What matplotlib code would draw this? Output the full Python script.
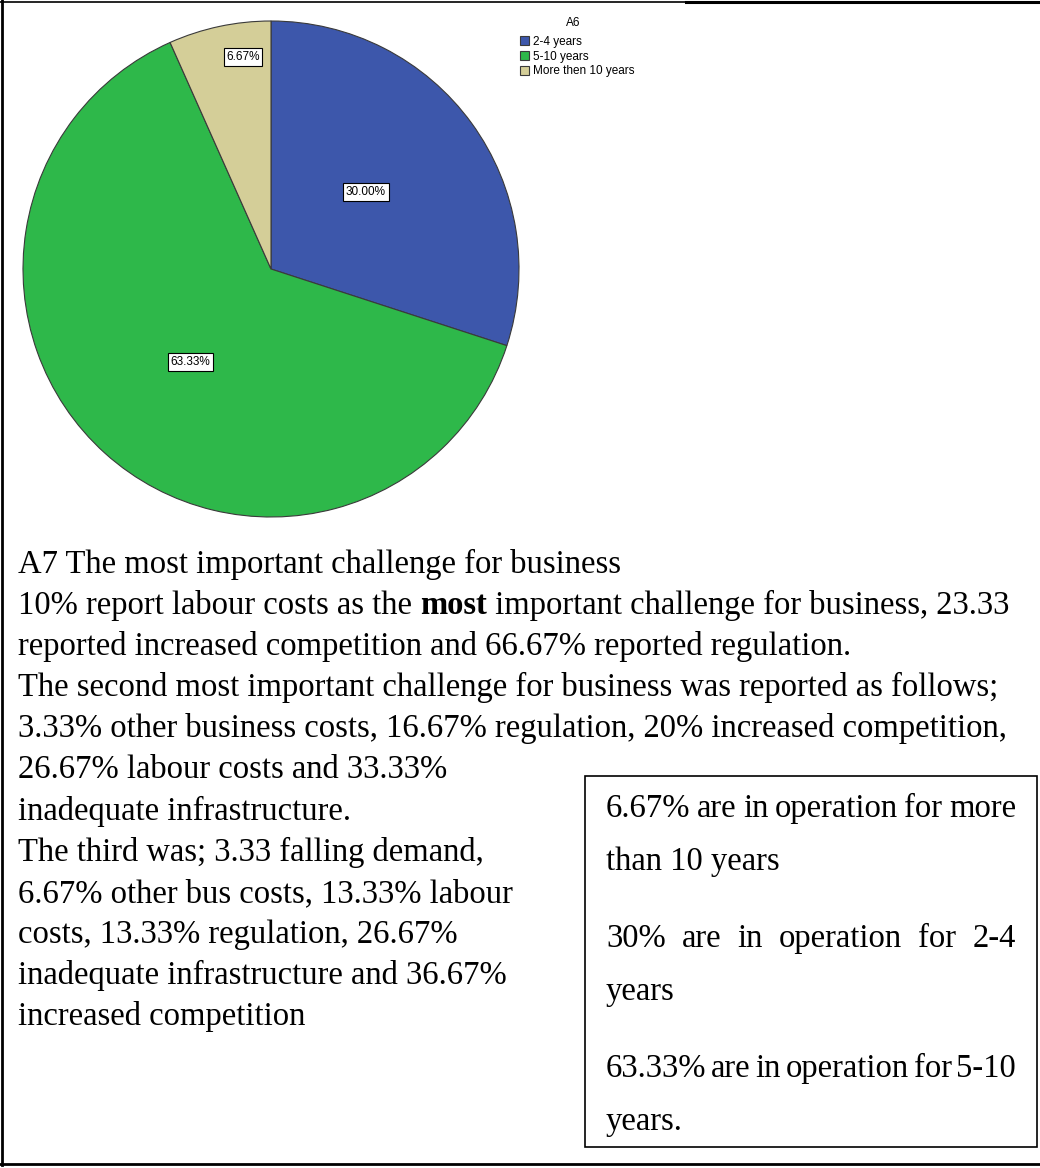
import matplotlib.pyplot as plt
import numpy as np
from matplotlib.patches import Rectangle

plt.rcParams['font.family'] = ['Liberation Serif', 'DejaVu Serif']

# pie data (A6: years in operation)
categories = ["2-4 years", "5-10 years", "More then 10 years"]
shares = [30.00, 63.33, 6.67]
pie_labels = ["30.00%", "63.33%", "6.67%"]
colors = ["#3d57ab", "#2eb84a", "#d4ce98"]

# text under the pie, one list per line: (text, weight) runs
body_lines = [
    [("A7 The most important challenge for business", "normal")],
    [("10% report labour costs as the ", "normal"), ("most", "bold"),
     (" important challenge for business, 23.33", "normal")],
    [("reported increased competition and 66.67% reported regulation.", "normal")],
    [("The second most important challenge for business was reported as follows;", "normal")],
    [("3.33% other business costs, 16.67% regulation, 20% increased competition,", "normal")],
    [("26.67% labour costs and 33.33%", "normal")],
    [("inadequate infrastructure.", "normal")],
    [("The third was; 3.33 falling demand,", "normal")],
    [("6.67% other bus costs, 13.33% labour", "normal")],
    [("costs, 13.33% regulation, 26.67%", "normal")],
    [("inadequate infrastructure and 36.67%", "normal")],
    [("increased competition", "normal")],
]

# text box on the right: (line, justified?)
box_lines = [
    ("6.67% are in operation for more", True),
    ("than 10 years", False),
    ("30% are in operation for 2-4", True),
    ("years", False),
    ("63.33% are in operation for 5-10", True),
    ("years.", False),
]
box_baselines = [817, 870, 947, 1000, 1077, 1130]

W, H = 1040, 1168
fig = plt.figure(figsize=(W / 100, H / 100), dpi=100)
page = fig.add_axes([0, 0, 1, 1])
page.set_xlim(0, W)
page.set_ylim(H, 0)
page.axis("off")

# outer frame lines
page.plot([2, 2], [0, 1165], color="black", lw=2)
page.plot([0, 686], [1.5, 1.5], color="black", lw=1.2)
page.plot([686, W], [1.5, 1.5], color="black", lw=2.2)
page.plot([0, W], [1164, 1164], color="black", lw=2)

# pie
cx, cy, r = 271, 269, 248
pie_ax = fig.add_axes([(cx - r) / W, 1 - (cy + r) / H, 2 * r / W, 2 * r / H])
wedges, _ = pie_ax.pie(shares, colors=colors, startangle=90, counterclock=False,
                       wedgeprops=dict(edgecolor="#3a3a3a", linewidth=0.8))
pie_ax.set_xlim(-1, 1)
pie_ax.set_ylim(-1, 1)
pie_ax.set_aspect("equal")

label_dist = [0.493, 0.497, 0.862]
label_turn = [3, 1, -4.5]
for w, lab, d, t in zip(wedges, pie_labels, label_dist, label_turn):
    ang = np.deg2rad((w.theta1 + w.theta2) / 2 + t)
    pie_ax.text(d * np.cos(ang), d * np.sin(ang), lab, ha="center", va="center",
                fontsize=8.5, family="Liberation Sans",
                bbox=dict(boxstyle="square,pad=0.22", fc="white", ec="black", lw=0.8))

# legend (title drawn separately so it sits higher)
page.text(573, 23, "A6", ha="center", va="center", fontsize=8.5,
          family="Liberation Sans")
fig.legend(wedges, categories, loc="upper left",
           bbox_to_anchor=(520 / W, 1 - 36 / H), frameon=False,
           prop={"family": "Liberation Sans", "size": 8.5},
           handlelength=0.8, handleheight=0.8, handletextpad=0.3,
           labelspacing=0.22, borderpad=0, borderaxespad=0)

# body text
fig.canvas.draw()
renderer = fig.canvas.get_renderer()
FS = 23.5


def text_width(s, weight="normal"):
    t = page.text(0, 0, s, fontsize=FS, fontweight=weight)
    wpx = t.get_window_extent(renderer).width
    t.remove()
    return wpx


space_w = text_width("a a") - text_width("aa")

x0, y0, step = 18, 573, 41.1
for i, runs in enumerate(body_lines):
    x = x0
    for s, weight in runs:
        page.text(x, y0 + i * step, s, fontsize=FS, fontweight=weight,
                  ha="left", va="baseline")
        lead = len(s) - len(s.lstrip(" "))
        trail = len(s) - len(s.rstrip(" "))
        x += text_width(s.strip(), weight) + (lead + trail) * space_w

# right text box
page.add_patch(Rectangle((585, 776), 1037 - 585, 1147 - 776, fill=False,
                         ec="black", lw=1.2))
bl, br = 606, 1016
for (line, just), yb in zip(box_lines, box_baselines):
    words = line.split()
    if just and len(words) > 1:
        widths = [text_width(wd) for wd in words]
        gap = (br - bl - sum(widths)) / (len(words) - 1)
        x = bl
        for wd, wpx in zip(words, widths):
            page.text(x, yb, wd, fontsize=FS, ha="left", va="baseline")
            x += wpx + gap
    else:
        page.text(bl, yb, line, fontsize=FS, ha="left", va="baseline")

fig.savefig("out.png", dpi=100)
